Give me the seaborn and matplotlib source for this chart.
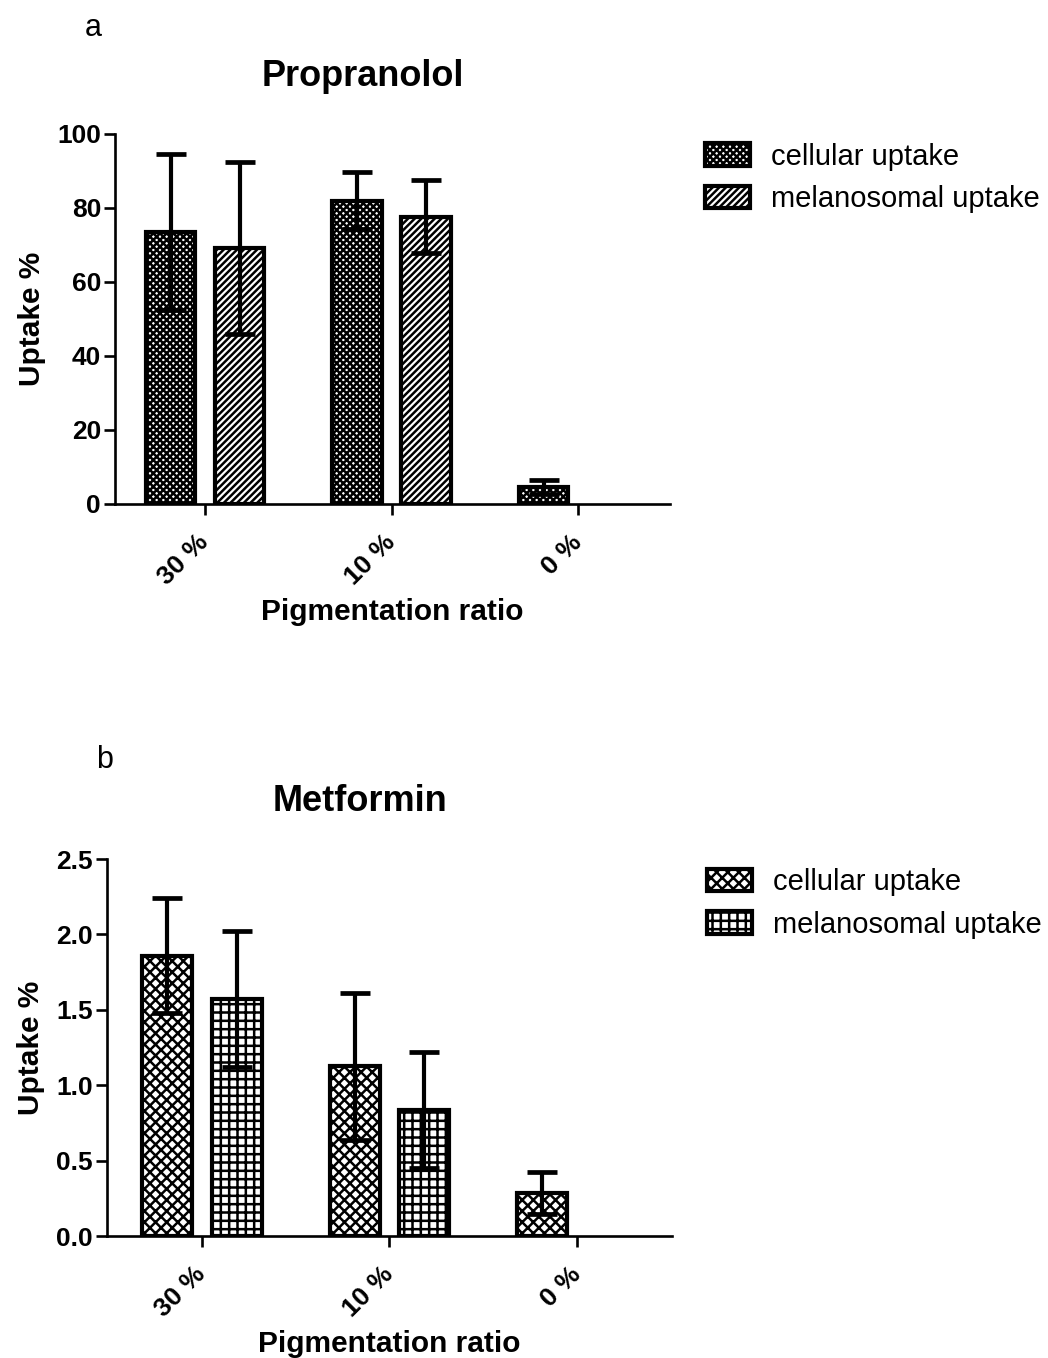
import numpy as np
import pandas as pd
import matplotlib
matplotlib.use("Agg")
import matplotlib.pyplot as plt
from matplotlib.container import BarContainer
import seaborn as sns

# ---------------- data ----------------
ratios = ["30 %", "10 %", "0 %"]
series = ["cellular uptake", "melanosomal uptake"]

prop_cell = [73.5, 82.0, 4.6]
prop_cell_sd = [21.2, 7.8, 1.9]
prop_mel = [69.2, 77.6, np.nan]
prop_mel_sd = [23.3, 9.9, np.nan]

met_cell = [1.86, 1.125, 0.285]
met_cell_sd = [0.38, 0.485, 0.14]
met_mel = [1.57, 0.835, np.nan]
met_mel_sd = [0.45, 0.385, np.nan]

y_ticks_a = [0, 20, 40, 60, 80, 100]
y_ticks_b = [0.0, 0.5, 1.0, 1.5, 2.0, 2.5]
y_ticklabels_b = ["0.0", "0.5", "1.0", "1.5", "2.0", "2.5"]

# ---------------- style ----------------
sns.set_style("ticks")
plt.rcParams["font.family"] = ["Liberation Sans", "DejaVu Sans"]
plt.rcParams["hatch.linewidth"] = 1.8
plt.rcParams["axes.linewidth"] = 1.9
for k in ["text.color", "axes.labelcolor", "xtick.color", "ytick.color",
          "axes.edgecolor"]:
    plt.rcParams[k] = "black"

fig = plt.figure(figsize=(10.48, 13.58), dpi=100)
ax_a = fig.add_axes([0.1097, 0.6289, 0.5296, 0.2725])
ax_b = fig.add_axes([0.1021, 0.0898, 0.5391, 0.2776])


def make_df(cell, mel):
    return pd.DataFrame({
        "ratio": ratios * 2,
        "type": [series[0]] * 3 + [series[1]] * 3,
        "value": list(cell) + list(mel),
    })


def draw(ax, cell, cell_sd, mel, mel_sd, hatches, title, yticks, yticklabels,
         ylim, xlim, legend_anchor):
    df = make_df(cell, mel)
    sns.barplot(data=df, x="ratio", y="value", hue="type", order=ratios,
                hue_order=series, errorbar=None, width=0.74, gap=0.28,
                facecolor="white", edgecolor="black", linewidth=3.0,
                ax=ax, legend=False)
    bars = [c for c in ax.containers if isinstance(c, BarContainer)]
    sds = [cell_sd, mel_sd]
    for hi, cont in enumerate(bars):
        for p in cont.patches:
            p.set_hatch(hatches[hi])
            p.set_facecolor("white")
            p.set_edgecolor("black")
            p.set_linewidth(3.0)
            h = p.get_height()
            if not np.isfinite(h) or h == 0:
                continue
            xc = p.get_x() + p.get_width() / 2
            ci = int(round(xc))
            ax.errorbar(xc, h, yerr=sds[hi][ci], fmt="none", ecolor="black",
                        elinewidth=3.0, capsize=10.5, capthick=3.4, zorder=5)
    ax.set_xlim(*xlim)
    ax.set_ylim(*ylim)
    ax.set_yticks(yticks)
    ax.set_yticklabels(yticklabels)
    ax.set_xticks(range(len(ratios)))
    ax.set_xticklabels(ratios, rotation=45, ha="right", va="center",
                       rotation_mode="anchor")
    for lab in ax.get_xticklabels() + ax.get_yticklabels():
        lab.set_fontsize(19)
        lab.set_fontweight("bold")
        lab.set_color("black")
    ax.tick_params(axis="both", direction="out", length=8, width=1.9, color="black")
    ax.tick_params(axis="x", pad=17)
    ax.tick_params(axis="y", pad=2)
    ax.set_xlabel("Pigmentation ratio", fontsize=21.5, fontweight="bold",
                  labelpad=6, color="black")
    ax.set_ylabel("Uptake %", fontsize=21.5, fontweight="bold", labelpad=8,
                  color="black")
    ax.text(0.447, 1.154, title, transform=ax.transAxes, ha="center",
            va="center", fontsize=26, fontweight="bold", color="black")
    sns.despine(ax=ax)
    for s in ["left", "bottom"]:
        ax.spines[s].set_color("black")
    ax.legend(bars, series, loc="upper left",
              bbox_to_anchor=legend_anchor, frameon=False, fontsize=21,
              borderpad=0, borderaxespad=0, handlelength=1.55,
              handleheight=0.8, handletextpad=0.7, labelspacing=0.5,
              labelcolor="black")


draw(ax_a, prop_cell, prop_cell_sd, prop_mel, prop_mel_sd,
     ["xxxxx", "/////"], "Propranolol", y_ticks_a,
     [str(t) for t in y_ticks_a], (0, 100), (-0.483, 2.493), (1.063, 0.976))
draw(ax_b, met_cell, met_cell_sd, met_mel, met_mel_sd,
     ["xxx", "++"], "Metformin", y_ticks_b, y_ticklabels_b,
     (0, 2.5), (-0.507, 2.507), (1.062, 0.976))

fig.text(0.0887, 0.9794, "a", fontsize=22, ha="center", va="center", color="black")
fig.text(0.1002, 0.4404, "b", fontsize=22, ha="center", va="center", color="black")

fig.savefig("out.png", dpi=100, facecolor="white")
